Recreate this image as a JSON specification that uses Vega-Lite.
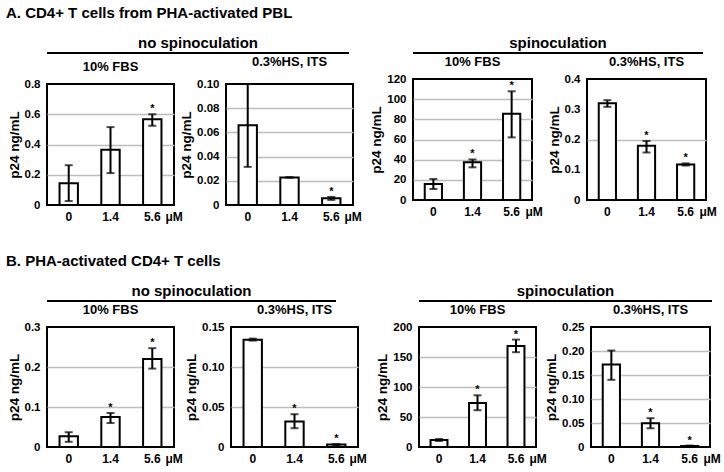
{
  "$schema": "https://vega.github.io/schema/vega-lite/v6.json",
  "background": "white",
  "padding": {"left": 6, "top": 6, "right": 2, "bottom": 2},
  "datasets": {
    "a1": [
      {"dose": "0", "mean": 0.143, "lo": 0.026, "hi": 0.263, "sig": ""},
      {"dose": "1.4", "mean": 0.365, "lo": 0.211, "hi": 0.515, "sig": ""},
      {"dose": "5.6", "mean": 0.567, "lo": 0.524, "hi": 0.6, "sig": "*"}
    ],
    "a2": [
      {"dose": "0", "mean": 0.066, "lo": 0.0315, "hi": 0.1, "sig": ""},
      {"dose": "1.4", "mean": 0.0227, "lo": 0.0227, "hi": 0.0229, "sig": ""},
      {"dose": "5.6", "mean": 0.0055, "lo": 0.0042, "hi": 0.0067, "sig": "*"}
    ],
    "a3": [
      {"dose": "0", "mean": 15.9, "lo": 10.9, "hi": 20.8, "sig": ""},
      {"dose": "1.4", "mean": 37.4, "lo": 32.4, "hi": 40.2, "sig": "*"},
      {"dose": "5.6", "mean": 85.6, "lo": 62.1, "hi": 107.8, "sig": "*"}
    ],
    "a4": [
      {"dose": "0", "mean": 0.32, "lo": 0.308, "hi": 0.33, "sig": ""},
      {"dose": "1.4", "mean": 0.179, "lo": 0.157, "hi": 0.195, "sig": "*"},
      {"dose": "5.6", "mean": 0.1175, "lo": 0.114, "hi": 0.121, "sig": "*"}
    ],
    "b1": [
      {"dose": "0", "mean": 0.027, "lo": 0.013, "hi": 0.037, "sig": ""},
      {"dose": "1.4", "mean": 0.075, "lo": 0.06, "hi": 0.085, "sig": "*"},
      {"dose": "5.6", "mean": 0.22, "lo": 0.196, "hi": 0.247, "sig": "*"}
    ],
    "b2": [
      {"dose": "0", "mean": 0.134, "lo": 0.133, "hi": 0.1355, "sig": ""},
      {"dose": "1.4", "mean": 0.032, "lo": 0.0235, "hi": 0.041, "sig": "*"},
      {"dose": "5.6", "mean": 0.003, "lo": 0.0017, "hi": 0.0037, "sig": "*"}
    ],
    "b3": [
      {"dose": "0", "mean": 11.6, "lo": 10, "hi": 13.3, "sig": ""},
      {"dose": "1.4", "mean": 73.5, "lo": 61.3, "hi": 86.2, "sig": "*"},
      {"dose": "5.6", "mean": 168.5, "lo": 158, "hi": 179, "sig": "*"}
    ],
    "b4": [
      {"dose": "0", "mean": 0.172, "lo": 0.14, "hi": 0.201, "sig": ""},
      {"dose": "1.4", "mean": 0.0496, "lo": 0.039, "hi": 0.06, "sig": "*"},
      {"dose": "5.6", "mean": 0.002, "lo": 0.001, "hi": 0.003, "sig": "*"}
    ]
  },
  "spacing": 31,
  "vconcat": [
    {
      "title": {"text": "A. CD4+ T cells from PHA-activated PBL", "anchor": "start", "fontSize": 15, "offset": 15},
      "spacing": 5,
      "hconcat": [
        {
          "spacing": 1,
          "vconcat": [
            {
              "width": 302, "height": 1,
              "view": {"stroke": null},
              "title": {"text": "no spinoculation", "fontSize": 15, "offset": 1},
              "data": {"values": [{"s": 0, "e": 1}]},
              "mark": {"type": "rule", "strokeWidth": 2, "color": "black"},
              "encoding": {
                "x": {"field": "s", "type": "quantitative", "scale": {"domain": [0, 1]}, "axis": null},
                "x2": {"field": "e"},
                "y": {"field": "s", "type": "quantitative", "scale": {"domain": [0, 1]}, "axis": null}
              }
            },
            {
              "spacing": 52,
              "bounds": "flush",
              "hconcat": [
                {
                  "width": 127, "height": 121,
                  "title": "10% FBS",
                  "data": {"name": "a1"},
                  "encoding": {"x": {"field": "dose", "type": "nominal", "sort": ["0", "1.4", "5.6"], "scale": {"paddingInner": 0.56, "paddingOuter": 0.3}, "axis": {"title": "μM", "titleAngle": 0, "titleAlign": "left", "titleBaseline": "top", "titleX": 118, "titleY": 6}}},
                  "layer": [
                    {"mark": {"type": "bar", "fill": "white", "stroke": "black", "strokeWidth": 2},
                     "encoding": {"y": {"field": "mean", "type": "quantitative", "scale": {"domain": [0, 0.8], "nice": false},
                       "axis": {"title": "p24 ng/mL", "tickCount": 20, "values": [0, 0.2, 0.4, 0.6, 0.8], "labelExpr": "datum.value == 0 ? '0' : format(datum.value, '.1f')", "grid": true, "gridColor": {"condition": {"test": "datum.value > 0.001 && datum.value < 0.799", "value": "#bdbdbd"}, "value": "transparent"}}}}},
                    {"mark": {"type": "rule", "strokeWidth": 2, "color": "black"},
                     "encoding": {"y": {"field": "lo", "type": "quantitative", "scale": {"domain": [0, 0.8], "nice": false}}, "y2": {"field": "hi"}}},
                    {"mark": {"type": "tick", "thickness": 2, "color": "black"},
                     "encoding": {"y": {"field": "lo", "type": "quantitative", "scale": {"domain": [0, 0.8], "nice": false}}, "size": {"value": 8}}},
                    {"mark": {"type": "tick", "thickness": 2, "color": "black"},
                     "encoding": {"y": {"field": "hi", "type": "quantitative", "scale": {"domain": [0, 0.8], "nice": false}}, "size": {"value": 8}}},
                    {"mark": {"type": "text", "fontSize": 11, "fontWeight": "bold", "baseline": "alphabetic", "dy": -2, "color": "black"},
                     "encoding": {"y": {"field": "hi", "type": "quantitative", "scale": {"domain": [0, 0.8], "nice": false}}, "text": {"field": "sig"}}}
                  ]
                },
                {
                  "width": 127, "height": 121,
                  "title": "0.3%HS, ITS",
                  "data": {"name": "a2"},
                  "encoding": {"x": {"field": "dose", "type": "nominal", "sort": ["0", "1.4", "5.6"], "scale": {"paddingInner": 0.56, "paddingOuter": 0.3}, "axis": {"title": "μM", "titleAngle": 0, "titleAlign": "left", "titleBaseline": "top", "titleX": 118, "titleY": 6}}},
                  "layer": [
                    {"mark": {"type": "bar", "fill": "white", "stroke": "black", "strokeWidth": 2},
                     "encoding": {"y": {"field": "mean", "type": "quantitative", "scale": {"domain": [0, 0.1], "nice": false},
                       "axis": {"title": "p24 ng/mL", "tickCount": 20, "values": [0, 0.02, 0.04, 0.06, 0.08, 0.1], "labelExpr": "datum.value == 0 ? '0' : format(datum.value, '.2f')", "grid": true, "gridColor": {"condition": {"test": "datum.value > 0.0001 && datum.value < 0.0999", "value": "#bdbdbd"}, "value": "transparent"}}}}},
                    {"mark": {"type": "rule", "strokeWidth": 2, "color": "black"},
                     "encoding": {"y": {"field": "lo", "type": "quantitative", "scale": {"domain": [0, 0.1], "nice": false}}, "y2": {"field": "hi"}}},
                    {"mark": {"type": "tick", "thickness": 2, "color": "black"},
                     "encoding": {"y": {"field": "lo", "type": "quantitative", "scale": {"domain": [0, 0.1], "nice": false}}, "size": {"value": 8}}},
                    {"mark": {"type": "tick", "thickness": 2, "color": "black"},
                     "encoding": {"y": {"field": "hi", "type": "quantitative", "scale": {"domain": [0, 0.1], "nice": false}}, "size": {"value": 8}}},
                    {"mark": {"type": "text", "fontSize": 11, "fontWeight": "bold", "baseline": "alphabetic", "dy": -2, "color": "black"},
                     "encoding": {"y": {"field": "hi", "type": "quantitative", "scale": {"domain": [0, 0.1], "nice": false}}, "text": {"field": "sig"}}}
                  ]
                }
              ]
            }
          ]
        },
        {
          "spacing": 1,
          "vconcat": [
            {
              "width": 290, "height": 1,
              "view": {"stroke": null},
              "title": {"text": "spinoculation", "fontSize": 15, "offset": 1},
              "data": {"values": [{"s": 0, "e": 1}]},
              "mark": {"type": "rule", "strokeWidth": 2, "color": "black"},
              "encoding": {
                "x": {"field": "s", "type": "quantitative", "scale": {"domain": [0, 1]}, "axis": null},
                "x2": {"field": "e"},
                "y": {"field": "s", "type": "quantitative", "scale": {"domain": [0, 1]}, "axis": null}
              }
            },
            {
              "spacing": 55,
              "bounds": "flush",
              "hconcat": [
                {
                  "width": 119, "height": 121,
                  "title": "10% FBS",
                  "data": {"name": "a3"},
                  "encoding": {"x": {"field": "dose", "type": "nominal", "sort": ["0", "1.4", "5.6"], "scale": {"paddingInner": 0.56, "paddingOuter": 0.3}, "axis": {"title": "μM", "titleAngle": 0, "titleAlign": "left", "titleBaseline": "top", "titleX": 112, "titleY": 6}}},
                  "layer": [
                    {"mark": {"type": "bar", "fill": "white", "stroke": "black", "strokeWidth": 2},
                     "encoding": {"y": {"field": "mean", "type": "quantitative", "scale": {"domain": [0, 120], "nice": false},
                       "axis": {"title": "p24 ng/mL", "tickCount": 20, "values": [0, 20, 40, 60, 80, 100, 120], "grid": true, "gridColor": {"condition": {"test": "datum.value > 0.1 && datum.value < 119", "value": "#bdbdbd"}, "value": "transparent"}}}}},
                    {"mark": {"type": "rule", "strokeWidth": 2, "color": "black"},
                     "encoding": {"y": {"field": "lo", "type": "quantitative", "scale": {"domain": [0, 120], "nice": false}}, "y2": {"field": "hi"}}},
                    {"mark": {"type": "tick", "thickness": 2, "color": "black"},
                     "encoding": {"y": {"field": "lo", "type": "quantitative", "scale": {"domain": [0, 120], "nice": false}}, "size": {"value": 8}}},
                    {"mark": {"type": "tick", "thickness": 2, "color": "black"},
                     "encoding": {"y": {"field": "hi", "type": "quantitative", "scale": {"domain": [0, 120], "nice": false}}, "size": {"value": 8}}},
                    {"mark": {"type": "text", "fontSize": 11, "fontWeight": "bold", "baseline": "alphabetic", "dy": -2, "color": "black"},
                     "encoding": {"y": {"field": "hi", "type": "quantitative", "scale": {"domain": [0, 120], "nice": false}}, "text": {"field": "sig"}}}
                  ]
                },
                {
                  "width": 119, "height": 121,
                  "title": "0.3%HS, ITS",
                  "data": {"name": "a4"},
                  "encoding": {"x": {"field": "dose", "type": "nominal", "sort": ["0", "1.4", "5.6"], "scale": {"paddingInner": 0.56, "paddingOuter": 0.3}, "axis": {"title": "μM", "titleAngle": 0, "titleAlign": "left", "titleBaseline": "top", "titleX": 112, "titleY": 6}}},
                  "layer": [
                    {"mark": {"type": "bar", "fill": "white", "stroke": "black", "strokeWidth": 2},
                     "encoding": {"y": {"field": "mean", "type": "quantitative", "scale": {"domain": [0, 0.4], "nice": false},
                       "axis": {"title": "p24 ng/mL", "tickCount": 20, "values": [0, 0.1, 0.2, 0.3, 0.4], "labelExpr": "datum.value == 0 ? '0' : format(datum.value, '.1f')", "grid": true, "gridColor": {"condition": {"test": "abs(datum.value - 0.2) < 0.001", "value": "#bdbdbd"}, "value": "transparent"}}}}},
                    {"mark": {"type": "rule", "strokeWidth": 2, "color": "black"},
                     "encoding": {"y": {"field": "lo", "type": "quantitative", "scale": {"domain": [0, 0.4], "nice": false}}, "y2": {"field": "hi"}}},
                    {"mark": {"type": "tick", "thickness": 2, "color": "black"},
                     "encoding": {"y": {"field": "lo", "type": "quantitative", "scale": {"domain": [0, 0.4], "nice": false}}, "size": {"value": 8}}},
                    {"mark": {"type": "tick", "thickness": 2, "color": "black"},
                     "encoding": {"y": {"field": "hi", "type": "quantitative", "scale": {"domain": [0, 0.4], "nice": false}}, "size": {"value": 8}}},
                    {"mark": {"type": "text", "fontSize": 11, "fontWeight": "bold", "baseline": "alphabetic", "dy": -2, "color": "black"},
                     "encoding": {"y": {"field": "hi", "type": "quantitative", "scale": {"domain": [0, 0.4], "nice": false}}, "text": {"field": "sig"}}}
                  ]
                }
              ]
            }
          ]
        }
      ]
    },
    {
      "title": {"text": "B. PHA-activated CD4+ T cells", "anchor": "start", "fontSize": 15, "offset": 15},
      "spacing": 6,
      "hconcat": [
        {
          "spacing": 1,
          "vconcat": [
            {
              "width": 289, "height": 1,
              "view": {"stroke": null},
              "title": {"text": "no spinoculation", "fontSize": 15, "offset": 1},
              "data": {"values": [{"s": 0, "e": 1}]},
              "mark": {"type": "rule", "strokeWidth": 2, "color": "black"},
              "encoding": {
                "x": {"field": "s", "type": "quantitative", "scale": {"domain": [0, 1]}, "axis": null},
                "x2": {"field": "e"},
                "y": {"field": "s", "type": "quantitative", "scale": {"domain": [0, 1]}, "axis": null}
              }
            },
            {
              "spacing": 57,
              "bounds": "flush",
              "hconcat": [
                {
                  "width": 127, "height": 120,
                  "title": "10% FBS",
                  "data": {"name": "b1"},
                  "encoding": {"x": {"field": "dose", "type": "nominal", "sort": ["0", "1.4", "5.6"], "scale": {"paddingInner": 0.56, "paddingOuter": 0.3}, "axis": {"title": "μM", "titleAngle": 0, "titleAlign": "left", "titleBaseline": "top", "titleX": 118, "titleY": 6}}},
                  "layer": [
                    {"mark": {"type": "bar", "fill": "white", "stroke": "black", "strokeWidth": 2},
                     "encoding": {"y": {"field": "mean", "type": "quantitative", "scale": {"domain": [0, 0.3], "nice": false},
                       "axis": {"title": "p24 ng/mL", "tickCount": 20, "values": [0, 0.1, 0.2, 0.3], "labelExpr": "datum.value == 0 ? '0' : format(datum.value, '.1f')", "grid": true, "gridColor": {"condition": {"test": "datum.value > 0.001 && datum.value < 0.299", "value": "#bdbdbd"}, "value": "transparent"}}}}},
                    {"mark": {"type": "rule", "strokeWidth": 2, "color": "black"},
                     "encoding": {"y": {"field": "lo", "type": "quantitative", "scale": {"domain": [0, 0.3], "nice": false}}, "y2": {"field": "hi"}}},
                    {"mark": {"type": "tick", "thickness": 2, "color": "black"},
                     "encoding": {"y": {"field": "lo", "type": "quantitative", "scale": {"domain": [0, 0.3], "nice": false}}, "size": {"value": 8}}},
                    {"mark": {"type": "tick", "thickness": 2, "color": "black"},
                     "encoding": {"y": {"field": "hi", "type": "quantitative", "scale": {"domain": [0, 0.3], "nice": false}}, "size": {"value": 8}}},
                    {"mark": {"type": "text", "fontSize": 11, "fontWeight": "bold", "baseline": "alphabetic", "dy": -2, "color": "black"},
                     "encoding": {"y": {"field": "hi", "type": "quantitative", "scale": {"domain": [0, 0.3], "nice": false}}, "text": {"field": "sig"}}}
                  ]
                },
                {
                  "width": 127, "height": 120,
                  "title": "0.3%HS, ITS",
                  "data": {"name": "b2"},
                  "encoding": {"x": {"field": "dose", "type": "nominal", "sort": ["0", "1.4", "5.6"], "scale": {"paddingInner": 0.56, "paddingOuter": 0.3}, "axis": {"title": "μM", "titleAngle": 0, "titleAlign": "left", "titleBaseline": "top", "titleX": 118, "titleY": 6}}},
                  "layer": [
                    {"mark": {"type": "bar", "fill": "white", "stroke": "black", "strokeWidth": 2},
                     "encoding": {"y": {"field": "mean", "type": "quantitative", "scale": {"domain": [0, 0.15], "nice": false},
                       "axis": {"title": "p24 ng/mL", "tickCount": 20, "values": [0, 0.05, 0.1, 0.15], "labelExpr": "datum.value == 0 ? '0' : format(datum.value, '.2f')", "grid": true, "gridColor": {"condition": {"test": "datum.value > 0.001 && datum.value < 0.149", "value": "#bdbdbd"}, "value": "transparent"}}}}},
                    {"mark": {"type": "rule", "strokeWidth": 2, "color": "black"},
                     "encoding": {"y": {"field": "lo", "type": "quantitative", "scale": {"domain": [0, 0.15], "nice": false}}, "y2": {"field": "hi"}}},
                    {"mark": {"type": "tick", "thickness": 2, "color": "black"},
                     "encoding": {"y": {"field": "lo", "type": "quantitative", "scale": {"domain": [0, 0.15], "nice": false}}, "size": {"value": 8}}},
                    {"mark": {"type": "tick", "thickness": 2, "color": "black"},
                     "encoding": {"y": {"field": "hi", "type": "quantitative", "scale": {"domain": [0, 0.15], "nice": false}}, "size": {"value": 8}}},
                    {"mark": {"type": "text", "fontSize": 11, "fontWeight": "bold", "baseline": "alphabetic", "dy": -2, "color": "black"},
                     "encoding": {"y": {"field": "hi", "type": "quantitative", "scale": {"domain": [0, 0.15], "nice": false}}, "text": {"field": "sig"}}}
                  ]
                }
              ]
            }
          ]
        },
        {
          "spacing": 1,
          "vconcat": [
            {
              "width": 293, "height": 1,
              "view": {"stroke": null},
              "title": {"text": "spinoculation", "fontSize": 15, "offset": 1},
              "data": {"values": [{"s": 0, "e": 1}]},
              "mark": {"type": "rule", "strokeWidth": 2, "color": "black"},
              "encoding": {
                "x": {"field": "s", "type": "quantitative", "scale": {"domain": [0, 1]}, "axis": null},
                "x2": {"field": "e"},
                "y": {"field": "s", "type": "quantitative", "scale": {"domain": [0, 1]}, "axis": null}
              }
            },
            {
              "spacing": 55,
              "bounds": "flush",
              "hconcat": [
                {
                  "width": 117, "height": 120,
                  "title": "10% FBS",
                  "data": {"name": "b3"},
                  "encoding": {"x": {"field": "dose", "type": "nominal", "sort": ["0", "1.4", "5.6"], "scale": {"paddingInner": 0.56, "paddingOuter": 0.3}, "axis": {"title": "μM", "titleAngle": 0, "titleAlign": "left", "titleBaseline": "top", "titleX": 110, "titleY": 6}}},
                  "layer": [
                    {"mark": {"type": "bar", "fill": "white", "stroke": "black", "strokeWidth": 2},
                     "encoding": {"y": {"field": "mean", "type": "quantitative", "scale": {"domain": [0, 200], "nice": false},
                       "axis": {"title": "p24 ng/mL", "tickCount": 20, "values": [0, 50, 100, 150, 200], "grid": true, "gridColor": {"condition": {"test": "datum.value > 0.1 && datum.value < 199", "value": "#bdbdbd"}, "value": "transparent"}}}}},
                    {"mark": {"type": "rule", "strokeWidth": 2, "color": "black"},
                     "encoding": {"y": {"field": "lo", "type": "quantitative", "scale": {"domain": [0, 200], "nice": false}}, "y2": {"field": "hi"}}},
                    {"mark": {"type": "tick", "thickness": 2, "color": "black"},
                     "encoding": {"y": {"field": "lo", "type": "quantitative", "scale": {"domain": [0, 200], "nice": false}}, "size": {"value": 8}}},
                    {"mark": {"type": "tick", "thickness": 2, "color": "black"},
                     "encoding": {"y": {"field": "hi", "type": "quantitative", "scale": {"domain": [0, 200], "nice": false}}, "size": {"value": 8}}},
                    {"mark": {"type": "text", "fontSize": 11, "fontWeight": "bold", "baseline": "alphabetic", "dy": -2, "color": "black"},
                     "encoding": {"y": {"field": "hi", "type": "quantitative", "scale": {"domain": [0, 200], "nice": false}}, "text": {"field": "sig"}}}
                  ]
                },
                {
                  "width": 119, "height": 120,
                  "title": "0.3%HS, ITS",
                  "data": {"name": "b4"},
                  "encoding": {"x": {"field": "dose", "type": "nominal", "sort": ["0", "1.4", "5.6"], "scale": {"paddingInner": 0.56, "paddingOuter": 0.3}, "axis": {"title": "μM", "titleAngle": 0, "titleAlign": "left", "titleBaseline": "top", "titleX": 112, "titleY": 6}}},
                  "layer": [
                    {"mark": {"type": "bar", "fill": "white", "stroke": "black", "strokeWidth": 2},
                     "encoding": {"y": {"field": "mean", "type": "quantitative", "scale": {"domain": [0, 0.25], "nice": false},
                       "axis": {"title": "p24 ng/mL", "tickCount": 20, "values": [0, 0.05, 0.1, 0.15, 0.2, 0.25], "labelExpr": "datum.value == 0 ? '0' : format(datum.value, '.2f')", "grid": true, "gridColor": {"condition": {"test": "datum.value > 0.001 && datum.value < 0.249", "value": "#bdbdbd"}, "value": "transparent"}}}}},
                    {"mark": {"type": "rule", "strokeWidth": 2, "color": "black"},
                     "encoding": {"y": {"field": "lo", "type": "quantitative", "scale": {"domain": [0, 0.25], "nice": false}}, "y2": {"field": "hi"}}},
                    {"mark": {"type": "tick", "thickness": 2, "color": "black"},
                     "encoding": {"y": {"field": "lo", "type": "quantitative", "scale": {"domain": [0, 0.25], "nice": false}}, "size": {"value": 8}}},
                    {"mark": {"type": "tick", "thickness": 2, "color": "black"},
                     "encoding": {"y": {"field": "hi", "type": "quantitative", "scale": {"domain": [0, 0.25], "nice": false}}, "size": {"value": 8}}},
                    {"mark": {"type": "text", "fontSize": 11, "fontWeight": "bold", "baseline": "alphabetic", "dy": -2, "color": "black"},
                     "encoding": {"y": {"field": "hi", "type": "quantitative", "scale": {"domain": [0, 0.25], "nice": false}}, "text": {"field": "sig"}}}
                  ]
                }
              ]
            }
          ]
        }
      ]
    }
  ],
  "config": {
    "font": "Liberation Sans",
    "view": {"stroke": "black", "strokeWidth": 2},
    "axis": {"domain": false, "ticks": false, "labelFont": "Liberation Sans", "labelFontWeight": "bold", "labelColor": "black", "titleFont": "Liberation Sans", "titleFontWeight": "bold", "titleColor": "black", "gridWidth": 1.5},
    "axisY": {"labelFontSize": 11.5, "labelPadding": 7, "titleFontSize": 13.5, "titlePadding": 3},
    "axisX": {"labelFontSize": 12, "labelPadding": 6, "labelAngle": 0, "titleFontSize": 12, "grid": false},
    "title": {"font": "Liberation Sans", "fontWeight": "bold", "color": "black", "fontSize": 13, "offset": 0}
  }
}
